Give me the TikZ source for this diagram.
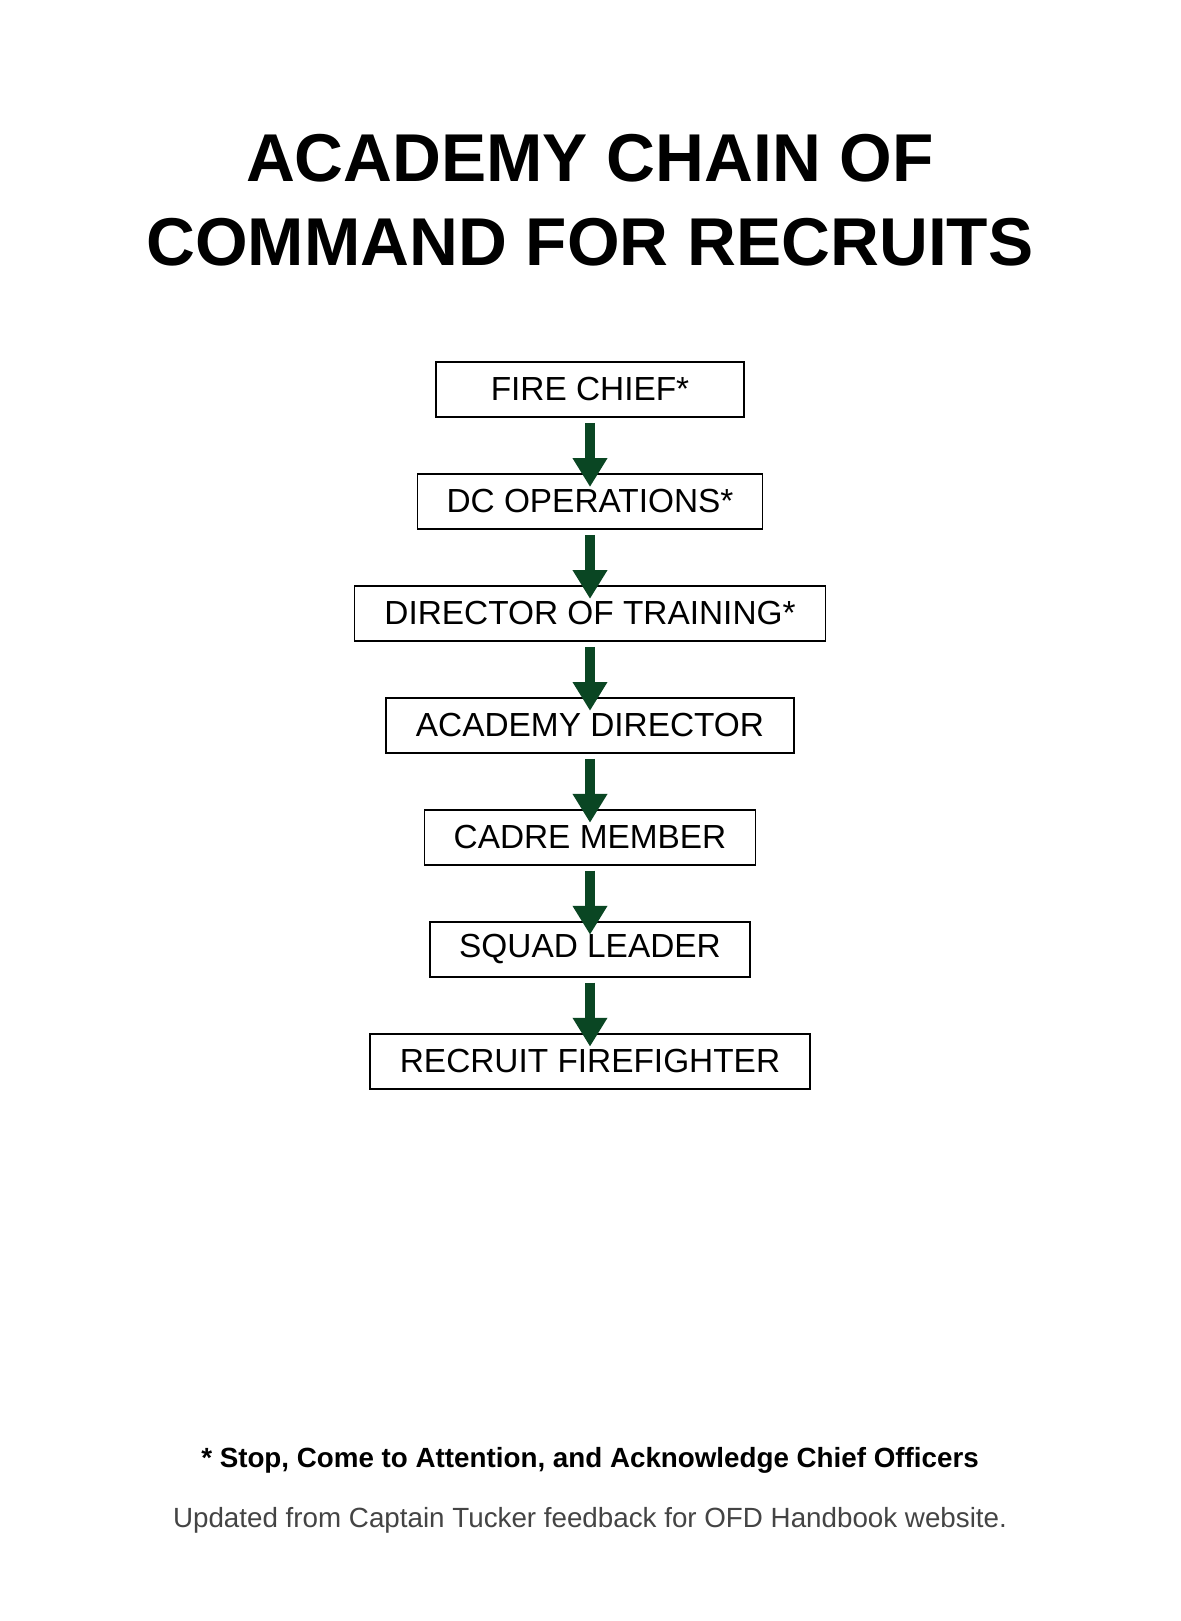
\documentclass[tikz,border=0pt]{standalone}
\usepackage{fontspec}
\setmainfont{Liberation Sans}
\usetikzlibrary{arrows.meta, positioning}
\definecolor{ChainGreen}{RGB}{10, 70, 35}
\definecolor{NoteGray}{RGB}{68, 68, 68}

\begin{document}
\begin{tikzpicture}[node distance=1.1cm,
    rank/.style={draw=black, line width=1.1pt, minimum height=1.1cm, inner sep=0pt,
        font=\fontsize{19}{23}\selectfont},
    down/.style={draw=ChainGreen, line width=6.2pt,
        -{Triangle[length=16.4pt, width=18.7pt]}}]
    \useasboundingbox (0,0) rectangle (23.6,-32.42);

    % --- Title ---
    \node[anchor=base, font=\bfseries\fontsize{38.5}{46}\selectfont] (titletop) at (11.8,-3.64) {ACADEMY CHAIN OF};
    \node[anchor=base, font=\bfseries\fontsize{38.5}{46}\selectfont] (titlebottom) at (11.8,-5.30) {COMMAND FOR RECRUITS};

    % --- Chain of command ---
    \node[rank, minimum width=6.16cm] (chief) at (11.8,-7.79) {FIRE CHIEF*};
    \node[rank, minimum width=6.90cm, below=of chief] (dcops) {DC OPERATIONS*};
    \node[rank, minimum width=9.42cm, below=of dcops] (training) {DIRECTOR OF TRAINING*};
    \node[rank, minimum width=8.16cm, below=of training] (director) {ACADEMY DIRECTOR};
    \node[rank, minimum width=6.62cm, below=of director] (cadre) {CADRE MEMBER};
    \node[rank, minimum width=6.40cm, below=of cadre] (squad) {SQUAD LEADER};
    \node[rank, minimum width=8.80cm, below=of squad] (recruit) {RECRUIT FIREFIGHTER};

    \foreach \a/\b in {chief/dcops, dcops/training, training/director,
        director/cadre, cadre/squad, squad/recruit}
        \draw[down] ([yshift=-0.1cm]\a.south) -- ([yshift=-0.28cm]\b.north);

    % --- Notes ---
    \node[anchor=base, font=\bfseries\fontsize{15.8}{19}\selectfont] (note) at (11.8,-29.34)
        {* Stop, Come to Attention, and Acknowledge Chief Officers};
    \node[anchor=base, text=NoteGray, font=\fontsize{15.8}{19}\selectfont] (credit) at (11.8,-30.54)
        {Updated from Captain Tucker feedback for OFD Handbook website.};
\end{tikzpicture}
\end{document}
